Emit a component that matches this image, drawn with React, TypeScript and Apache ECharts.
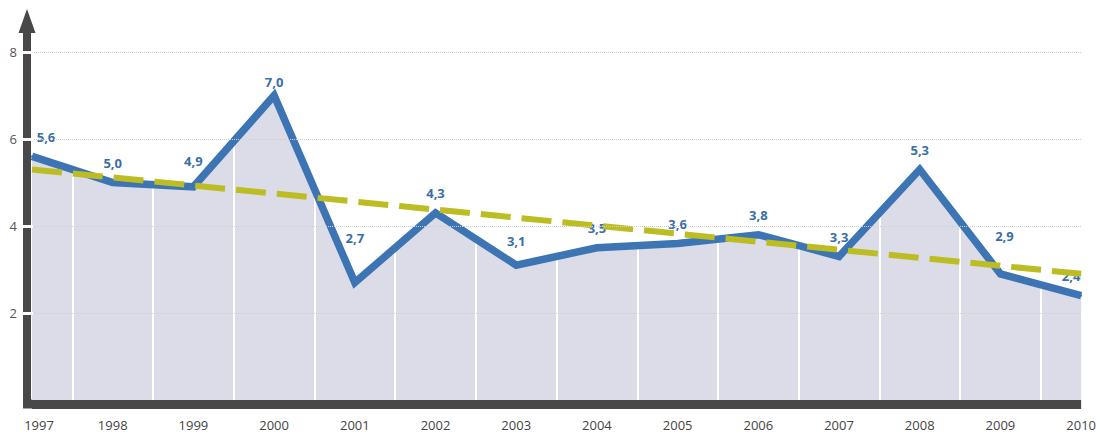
import React, { useEffect, useRef } from "react";
import * as echarts from "echarts";

const years = [1997, 1998, 1999, 2000, 2001, 2002, 2003, 2004, 2005, 2006, 2007, 2008, 2009, 2010];
const values = [5.6, 5.0, 4.9, 7.0, 2.7, 4.3, 3.1, 3.5, 3.6, 3.8, 3.3, 5.3, 2.9, 2.4];
const trendStart = 5.3;
const trendEnd = 2.9;
const trendLabel = "Linearer Trend";
const yTicks = [2, 4, 6, 8];

const FONT = "'Open Sans', 'Noto Sans', sans-serif";
const BLUE = "#3c74b4";
const TREND = "#bcbd22";
const DARK = "#484848";

export default function App() {
  const ref = useRef<HTMLDivElement>(null);

  useEffect(() => {
    const chart = echarts.init(ref.current!, null, { renderer: "svg" });

    const labelOffsets: Record<number, [number, number]> = {
      1997: [14, 0],
      1999: [0, -6],
      2000: [0, 6],
      2001: [0, -25],
      2003: [0, -5],
      2009: [4, -18],
      2010: [-10, 0],
    };

    const yMin = 0;
    const yMax = 8;
    const yInterval = 2;

    const option: any = {
      animation: false,
      backgroundColor: "#ffffff",
      grid: { left: 32, right: 17, top: 52, bottom: 38, containLabel: false },
      xAxis: {
        type: "value",
        min: years[0],
        max: years[years.length - 1],
        interval: 1,
        offset: 4,
        z: 6,
        axisLine: {
          show: true,
          onZero: false,
          symbol: ["rect", "none"],
          symbolSize: [9, 9],
          symbolOffset: [-4.5, 0],
          lineStyle: { color: DARK, width: 9, opacity: 1, cap: "butt" },
        },
        axisTick: { show: false },
        splitLine: { show: false },
        axisLabel: {
          margin: 14,
          color: "#444",
          fontSize: 13,
          fontFamily: FONT,
          formatter: (v: number) => (v === years[0] ? `{first|${v}}` : String(v)),
          rich: {
            first: { padding: [0, 0, 0, 14], color: "#444", fontSize: 13, fontFamily: FONT },
          },
        },
      },
      yAxis: [
        {
          type: "value",
          min: yMin,
          max: yMax,
          interval: yInterval,
          position: "left",
          offset: 5,
          z: 6,
          axisLine: {
            show: true,
            symbol: ["none", "path://M0,24L8.5,0L17,24L12.5,24L12.5,43L4.5,43L4.5,24Z"],
            symbolSize: [17, 43],
            symbolOffset: [0, 21.5],
            lineStyle: { color: DARK, width: 8, cap: "butt" },
          },
          axisTick: { show: false },
          axisLabel: {
            margin: 10,
            color: "#555",
            fontSize: 13,
            fontFamily: FONT,
            formatter: (v: number) => (yTicks.includes(v) ? String(v) : ""),
          },
          splitLine: {
            show: true,
            lineStyle: { color: "#cfcfcf", type: "dotted", width: 1 },
          },
        },
        {
          type: "value",
          min: yMin,
          max: yMax,
          interval: yInterval,
          position: "left",
          offset: 10,
          z: 7,
          axisLine: { show: false },
          axisTick: {
            show: true,
            inside: true,
            length: 11,
            customValues: yTicks,
            lineStyle: { color: "#ffffff", width: 3 },
          },
          axisLabel: { show: false },
          splitLine: { show: false },
        },
      ],
      series: [
        {
          name: "area",
          type: "line",
          z: 1,
          silent: true,
          symbol: "none",
          data: years.map((y, i) => [y, values[i]]),
          lineStyle: { width: 0, opacity: 0 },
          areaStyle: { color: "#c5c7da", opacity: 0.62 },
        },
        {
          name: "separators",
          type: "line",
          z: 2,
          silent: true,
          data: [],
          markLine: {
            z: 2,
            silent: true,
            symbol: ["none", "none"],
            label: { show: false },
            lineStyle: { color: "#ffffff", width: 2, type: "solid" },
            data: years.slice(1).map((y) => ({ xAxis: y - 0.5 })),
          },
        },
        {
          name: "Wert",
          type: "line",
          z: 3,
          symbol: "circle",
          symbolSize: 2,
          itemStyle: { color: BLUE },
          lineStyle: { color: BLUE, width: 7.5, join: "miter" },
          data: years.map((y, i) => ({
            value: [y, values[i]],
            label: labelOffsets[y] ? { offset: labelOffsets[y] } : undefined,
          })),
          label: {
            show: true,
            position: "top",
            distance: 12,
            color: "#3a6ea9",
            fontSize: 13,
            fontWeight: "bold",
            fontFamily: FONT,
            formatter: (p: any) => p.value[1].toFixed(1).replace(".", ","),
          },
        },
        {
          name: trendLabel,
          type: "line",
          z: 4,
          silent: true,
          symbol: "none",
          data: [
            [years[0], trendStart],
            [years[years.length - 1], trendEnd],
          ],
          lineStyle: { color: TREND, width: 6, type: [30, 11] },
          markLine: {
            z: 4,
            silent: true,
            symbol: ["none", "none"],
            lineStyle: { opacity: 0 },
            label: {
              show: true,
              position: "insideStartTop",
              distance: [430, 4],
              formatter: trendLabel,
              color: "#a3a43a",
              fontSize: 12,
              fontFamily: FONT,
            },
            data: [
              [
                { coord: [years[0], trendStart] },
                { coord: [years[years.length - 1], trendEnd] },
              ],
            ],
          },
        },
      ],
    };

    chart.setOption(option);
    return () => chart.dispose();
  }, []);

  return (
    <div
      ref={ref}
      style={{ position: "absolute", left: 0, top: 0, width: 1099, height: 438 }}
    />
  );
}
